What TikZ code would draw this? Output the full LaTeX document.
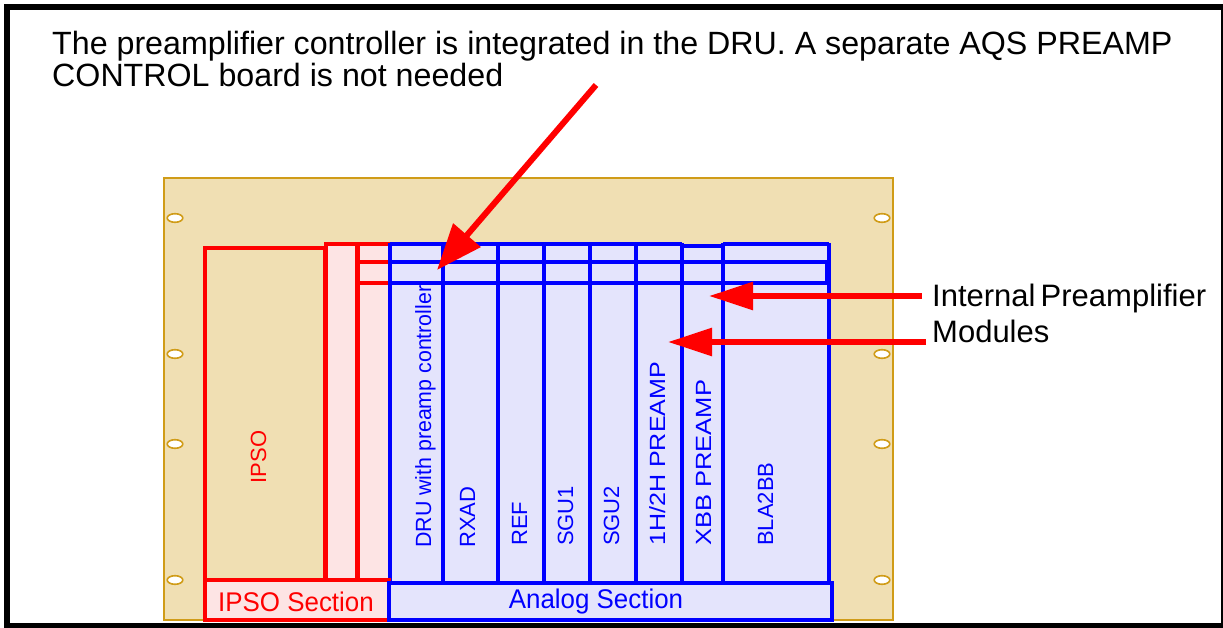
\documentclass[tikz,border=0pt]{standalone}
\usepackage{fontspec}
\setmainfont{Liberation Sans}
\usetikzlibrary{arrows.meta}
\definecolor{panelfill}{RGB}{240,223,179}
\definecolor{panelline}{RGB}{208,156,24}
\definecolor{pinkfill}{RGB}{253,228,228}
\definecolor{lavfill}{RGB}{228,228,252}
\tikzset{
  redline/.style={draw=red, line width=3.8pt},
  blueline/.style={draw=blue, line width=3.2pt},
  hole/.style={draw=panelline, line width=1.6pt, fill=white},
  bigarrow/.style={draw=red, line width=6pt, -{Triangle[length=46pt,width=35pt]}},
  sidearrow/.style={draw=red, line width=6pt, -{Triangle[length=44pt,width=27pt]}},
  collabel/.style={text=blue, rotate=90, anchor=base west, inner sep=0pt, font=\fontsize{22}{26}\selectfont},
  notetext/.style={anchor=base west, inner sep=0pt, font=\fontsize{32.2}{34}\selectfont},
  sidetext/.style={anchor=base west, inner sep=0pt, font=\fontsize{31}{34}\selectfont},
  sectext/.style={inner sep=0pt, font=\fontsize{27}{30}\selectfont}
}
\begin{document}
\begin{tikzpicture}[x=1pt,y=-1pt]
\useasboundingbox (0,0) rectangle (1223,628);
% outer frame
\fill[white] (0,0) rectangle (1223,628);
\fill[black] (4,4) rectangle (1223,628);
\fill[white] (10,10) rectangle (1221,623);
% panel
\draw[draw=panelline, line width=2.2pt, fill=panelfill] (164,178) rectangle (893,620);
\foreach \yy in {218,354,444,580}{
  \draw[hole] (175,\yy) ellipse [x radius=7.8pt, y radius=4.3pt];
  \draw[hole] (882,\yy) ellipse [x radius=7.8pt, y radius=4.3pt];
}
% IPSO part
\draw[redline] (205,248) rectangle (325,580);
\draw[redline, fill=pinkfill] (326,244) rectangle (357,580);
\draw[redline, fill=pinkfill] (358,244) rectangle (390,580);
\draw[redline] (358,262) rectangle (390,283);
% analog columns
\fill[lavfill] (390,244) rectangle (829,583);
\draw[blueline] (390,244) -- (682,244);
\draw[blueline] (682,246) -- (723,246);
\draw[blueline] (723,244) -- (829,244);
\foreach \xx in {390,443,498,544,590,636,682,723,829}{
  \draw[blueline] (\xx,243) -- (\xx,583);
}
\draw[blueline] (723,583) -- (779,583);
\draw[draw=blue, line width=4.2pt] (390,262) rectangle (827,283);
% column labels
\node[collabel] (dru) at (431,548) {\scalebox{0.97}[1]{DRU with preamp controller}};
\node[collabel] (rxad) at (475,548) {RXAD};
\node[collabel] (ref) at (527,546) {REF};
\node[collabel] (sgu1) at (573,546) {SGU1};
\node[collabel] (sgu2) at (619,546) {SGU2};
\node[collabel] (pre12) at (665,546) {\scalebox{1.14}[1]{1H/2H PREAMP}};
\node[collabel] (xbb) at (711,546) {\scalebox{1.16}[1]{XBB PREAMP}};
\node[collabel] (bla) at (773,546) {BLA2BB};
\node[collabel, text=red, anchor=base] (ipso) at (266,457) {IPSO};
% section boxes
\draw[redline, fill=pinkfill] (205,580) rectangle (389,620);
\node[sectext, text=red] (ipsosec) at (296,602) {\scalebox{0.96}[1]{IPSO Section}};
\draw[draw=blue, line width=3.8pt, fill=lavfill] (389,583) rectangle (832,620);
\node[sectext, text=blue] (analogsec) at (596,602) {\scalebox{0.96}[1]{Analog Section}};
% texts
\node[notetext] (note1) at (52,55) {The preamplifier controller is integrated in the DRU. A separate AQS PREAMP};
\node[notetext] (note2) at (52,87) {CONTROL board is not needed};
\node[sidetext] (side1) at (932,306) {Internal\,Preamplifier};
\node[sidetext] (side2) at (932,342) {Modules};
% arrows
\coordinate (a1s) at (596,85);
\coordinate (a1e) at (437,270);
\coordinate (a2s) at (922,296);
\coordinate (a2e) at (709,296);
\coordinate (a3s) at (926,342);
\coordinate (a3e) at (668,342);
\draw[bigarrow] (a1s) -- (a1e);
\draw[sidearrow] (a2s) -- (a2e);
\draw[sidearrow] (a3s) -- (a3e);
\end{tikzpicture}
\end{document}
